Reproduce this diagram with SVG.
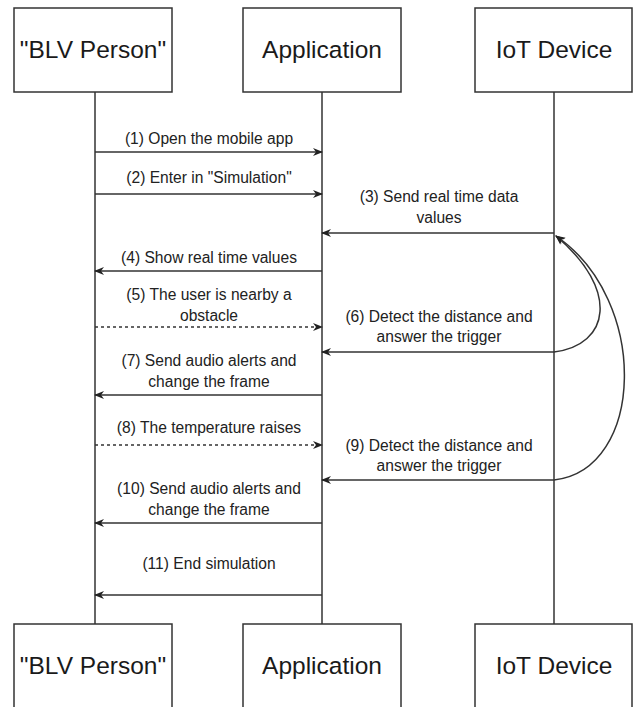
<svg xmlns="http://www.w3.org/2000/svg" width="637" height="707" viewBox="0 0 637 707">
<style>
.box{fill:#fff;stroke:#333;stroke-width:1.5}
.title{font-family:"Liberation Sans",Arial,sans-serif;font-size:24.5px;fill:#1a1a1a;text-anchor:middle}
.life{stroke:#333;stroke-width:1.5;fill:none}
.msg{stroke:#333;stroke-width:1.5;fill:none;marker-end:url(#ah)}
.dash{stroke-dasharray:3,3}
.lbl{font-family:"Liberation Sans",Arial,sans-serif;font-size:15.6px;fill:#222;text-anchor:middle}
</style>
<defs>
<marker id="ah" viewBox="0 0 10 10" refX="9" refY="5" markerWidth="10" markerHeight="10" markerUnits="userSpaceOnUse" orient="auto">
<path d="M0,1 L10,5 L0,9 L3,5 z" fill="#222"/>
</marker>
</defs>
<rect width="637" height="707" fill="#fff"/>
<g id="lifelines">
<line class="life" x1="95" y1="92" x2="95" y2="624"/>
<line class="life" x1="322" y1="92" x2="322" y2="624"/>
<line class="life" x1="554" y1="92" x2="554" y2="624"/>
</g>
<g id="blv-top"><rect class="box" x="14" y="8" width="158" height="84"/><text class="title" x="93" y="58">"BLV Person"</text></g>
<g id="app-top"><rect class="box" x="243" y="8" width="158" height="84"/><text class="title" x="322" y="58">Application</text></g>
<g id="iot-top"><rect class="box" x="475" y="8" width="157" height="84"/><text class="title" x="554" y="58">IoT Device</text></g>
<g id="blv-bottom"><rect class="box" x="14" y="624" width="158" height="90"/><text class="title" x="93" y="674">"BLV Person"</text></g>
<g id="app-bottom"><rect class="box" x="243" y="624" width="158" height="90"/><text class="title" x="322" y="674">Application</text></g>
<g id="iot-bottom"><rect class="box" x="475" y="624" width="157" height="90"/><text class="title" x="554" y="674">IoT Device</text></g>
<g id="connectors">
<line class="msg" x1="95" y1="152" x2="322" y2="152"/>
<line class="msg" x1="95" y1="194" x2="322" y2="194"/>
<line class="msg" x1="554" y1="233" x2="322" y2="233"/>
<line class="msg" x1="322" y1="271" x2="95" y2="271"/>
<line class="msg dash" x1="95" y1="327" x2="322" y2="327"/>
<line class="msg" x1="554" y1="352" x2="322" y2="352"/>
<line class="msg" x1="322" y1="395" x2="95" y2="395"/>
<line class="msg dash" x1="95" y1="445" x2="322" y2="445"/>
<line class="msg" x1="554" y1="480" x2="322" y2="480"/>
<line class="msg" x1="322" y1="523" x2="95" y2="523"/>
<line class="msg" x1="322" y1="595" x2="95" y2="595"/>
<path class="msg" d="M554,352 C610,345 620,290 556,236"/>
<path class="msg" d="M554,480 C645,470 650,300 556,236"/>
</g>
<g id="labels">
<text class="lbl" x="209" y="144">(1) Open the mobile app</text>
<text class="lbl" x="209" y="183">(2) Enter in "Simulation"</text>
<text class="lbl" x="439" y="202">(3) Send real time data</text>
<text class="lbl" x="439" y="223">values</text>
<text class="lbl" x="209" y="263">(4) Show real time values</text>
<text class="lbl" x="209" y="300">(5) The user is nearby a</text>
<text class="lbl" x="209" y="321">obstacle</text>
<text class="lbl" x="439" y="322">(6) Detect the distance and</text>
<text class="lbl" x="439" y="342">answer the trigger</text>
<text class="lbl" x="209" y="366">(7) Send audio alerts and</text>
<text class="lbl" x="209" y="387">change the frame</text>
<text class="lbl" x="209" y="433">(8) The temperature raises</text>
<text class="lbl" x="439" y="451">(9) Detect the distance and</text>
<text class="lbl" x="439" y="471">answer the trigger</text>
<text class="lbl" x="209" y="494">(10) Send audio alerts and</text>
<text class="lbl" x="209" y="515">change the frame</text>
<text class="lbl" x="209" y="569">(11) End simulation</text>
</g>
</svg>
